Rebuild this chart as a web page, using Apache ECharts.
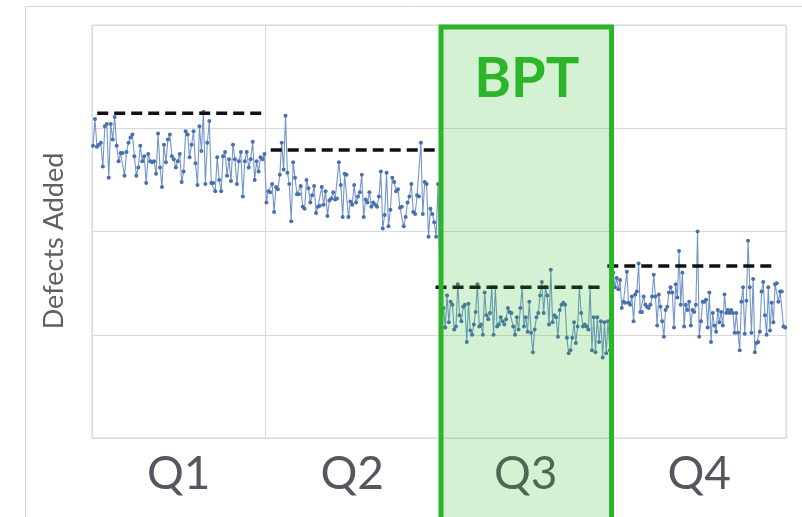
<!DOCTYPE html>
<html>
<head>
<meta charset="utf-8">
<script src="https://cdn.jsdelivr.net/npm/echarts@6/dist/echarts.min.js"></script>
<style>
  html, body { margin: 0; padding: 0; background: #fff; }
  #main { width: 802px; height: 517px; }
</style>
</head>
<body>
<div id="main"></div>
<script>
// quarter labels and per-quarter daily values (unitless)
const quarters = ['Q1', 'Q2', 'Q3', 'Q4'];

const q1Values = [28.3, 30.9, 28.2, 28.4, 28.6, 26.3, 30.2, 30.4, 25.2, 30.4, 28.9, 31.1, 28.3, 26.8, 27.6, 27.6, 25.4, 27.7, 28.6, 29.1,
  29.4, 27.3, 25.4, 26.2, 28.3, 26.8, 27.3, 24.7, 27.5, 26.8, 26.7, 26.8, 25.6, 29.5, 26.2, 24.3, 28.4, 26.7, 28.9, 29.4,
  27.3, 27.0, 26.2, 26.8, 27.5, 24.8, 25.8, 29.7, 29.4, 27.2, 28.4, 29.7, 26.6, 24.5, 30.2, 27.8, 31.6, 24.6, 28.6, 30.7,
  24.7, 24.7, 23.9, 27.2, 25.0, 23.9, 27.3, 27.7, 25.4, 27.0, 24.9, 28.4, 27.0, 24.6, 26.8, 27.7, 23.4, 26.8, 27.7, 26.2,
  27.0, 28.7, 25.0, 26.8, 25.8, 27.2, 27.0, 27.5];

const q2Values = [22.8, 23.9, 23.8, 24.6, 21.9, 24.3, 24.1, 25.5, 28.6, 26.0, 31.2, 25.7, 24.6, 21.0, 26.7, 25.2, 23.6, 23.6, 24.4, 22.4,
  22.2, 25.0, 24.2, 22.8, 23.5, 24.4, 21.8, 22.4, 22.5, 24.3, 22.6, 23.9, 21.5, 23.0, 23.2, 23.8, 23.1, 23.2, 26.7, 24.5,
  21.4, 25.6, 25.5, 21.4, 22.9, 22.6, 24.5, 22.8, 23.4, 23.8, 25.5, 21.4, 23.1, 22.8, 23.8, 22.4, 22.8, 22.6, 22.4, 23.4,
  25.8, 20.3, 21.6, 25.7, 20.5, 22.1, 25.2, 24.8, 23.9, 24.1, 22.3, 22.4, 20.5, 21.4, 22.8, 23.4, 24.6, 21.9, 21.7, 23.5,
  23.4, 28.6, 21.7, 24.8, 24.6, 19.5, 22.2, 21.7, 20.9, 19.5, 24.6];

const q3Values = [14.6, 10.8, 12.6, 10.7, 13.8, 11.2, 13.2, 12.9, 10.5, 10.8, 14.9, 11.9, 11.3, 12.7, 12.9, 9.3, 13.0, 10.4, 10.0, 11.0,
  12.2, 14.9, 10.8, 11.0, 10.0, 14.1, 11.9, 11.5, 12.1, 14.6, 10.0, 14.6, 10.8, 11.0, 11.7, 11.3, 11.0, 11.5, 12.6, 12.2,
  12.1, 10.8, 10.0, 11.7, 10.5, 12.6, 14.6, 10.8, 11.7, 10.3, 13.2, 10.2, 8.3, 10.5, 11.7, 12.1, 13.8, 15.1, 12.1, 14.6,
  13.8, 11.0, 16.3, 11.2, 11.9, 11.7, 9.8, 12.4, 12.9, 13.1, 12.9, 9.7, 8.2, 8.5, 9.7, 11.2, 9.2, 10.8, 14.6, 12.1,
  10.8, 11.0, 10.8, 10.5, 14.6, 8.5, 11.7, 8.3, 11.7, 9.3, 11.3, 7.8, 11.2, 8.2, 11.3, 8.5, 11.3];

const q4Values = [16.0, 14.6, 15.5, 14.4, 15.3, 12.6, 13.2, 13.1, 16.1, 13.1, 12.9, 13.7, 11.3, 13.9, 14.2, 16.9, 12.2, 12.2, 13.7, 12.9,
  12.7, 12.6, 12.9, 13.7, 15.8, 13.7, 10.9, 13.9, 12.7, 11.3, 9.8, 12.4, 12.7, 14.1, 14.6, 14.1, 10.7, 14.9, 13.6, 18.1,
  12.9, 16.0, 10.8, 12.9, 12.4, 13.2, 10.9, 12.4, 12.2, 12.9, 20.0, 9.8, 11.3, 13.2, 13.2, 13.4, 10.7, 14.1, 9.3, 12.1,
  10.9, 10.3, 12.4, 11.2, 12.2, 10.9, 13.9, 12.1, 12.4, 12.1, 12.4, 12.1, 10.2, 12.1, 10.2, 8.5, 13.2, 14.6, 10.1, 13.3,
  19.1, 14.6, 10.2, 15.4, 8.3, 9.2, 9.3, 10.3, 14.2, 15.1, 11.9, 10.0, 14.6, 10.4, 13.1, 11.2, 14.9, 15.0, 13.2, 14.2,
  14.2, 10.8, 10.7];

// dashed reference level per quarter and where each dash run starts / ends (in quarter units)
const refLevels = [31.45, 27.9, 14.6, 16.65];
const refStart = [0.03, 1.03, 1.98, 2.97];
const refEnd = [1.0, 2.0, 2.96, 3.95];

const highlightQuarter = 2;   // Q3
const highlightText = 'BPT';
const yAxisTitle = 'Defects Added';

const chart = echarts.init(document.getElementById('main'));

// spread every quarter's points evenly across its own band
const points = [];
[q1Values, q2Values, q3Values, q4Values].forEach(function (vals, q) {
  vals.forEach(function (v, i) {
    points.push([q + (i + 0.5) / vals.length, v]);
  });
});

const gridColor = '#d9d9d9';

const refSeries = refLevels.map(function (v, q) {
  return {
    type: 'line',
    xAxisIndex: 0,
    data: [[refStart[q], v], [refEnd[q], v]],
    symbol: 'none',
    lineStyle: { color: '#111', width: 3.5, type: [11, 6] },
    z: 4
  };
});

chart.setOption({
  animation: false,
  grid: { left: 92, top: 25, right: 16, bottom: 79, show: true, borderColor: gridColor, borderWidth: 1 },
  xAxis: [
    {
      type: 'value', min: 0, max: 4, interval: 1,
      axisLabel: { show: false }, axisLine: { show: false }, axisTick: { show: false },
      splitLine: { show: true, lineStyle: { color: gridColor } }
    },
    {
      type: 'category', data: quarters, position: 'bottom', boundaryGap: true,
      axisLine: { show: false }, axisTick: { show: false }, splitLine: { show: false },
      axisLabel: { fontFamily: 'Lato', fontSize: 46, color: '#55565f', margin: 13 }
    }
  ],
  yAxis: {
    type: 'value', min: 0, max: 40, interval: 10,
    axisLabel: { show: false }, axisLine: { show: false }, axisTick: { show: false },
    splitLine: { lineStyle: { color: gridColor } }
  },
  series: [{
    type: 'line',
    xAxisIndex: 0,
    data: points,
    symbol: 'circle',
    symbolSize: 4,
    lineStyle: { color: '#7395cd', width: 1.1 },
    itemStyle: { color: '#4a6fae' },
    z: 3
  }].concat(refSeries)
});

// highlighted quarter box + labels, placed from the axis scales
const p0 = chart.convertToPixel({ xAxisIndex: 0, yAxisIndex: 0 }, [highlightQuarter, 40]);
const p1 = chart.convertToPixel({ xAxisIndex: 0, yAxisIndex: 0 }, [highlightQuarter + 1, 0]);

chart.setOption({
  graphic: [
    {
      type: 'rect', z: -1, silent: true,
      shape: { x: 25.5, y: 6.5, width: 900, height: 600 },
      style: { fill: 'none', stroke: '#d4d4d4', lineWidth: 1 }
    },
    {
      type: 'rect', z: 100, silent: true,
      shape: { x: p0[0] + 2, y: p0[1] + 2, width: p1[0] - p0[0] - 3, height: chart.getHeight() - p0[1] + 10 },
      style: { fill: 'rgba(45,185,40,0.2)', stroke: '#2db52a', lineWidth: 5 }
    },
    {
      type: 'text', z: 101, silent: true,
      x: (p0[0] + p1[0]) / 2 + 1, y: p0[1] + 54,
      style: { text: highlightText, font: 'bold 56px Lato', fill: '#2db52a', align: 'center', verticalAlign: 'middle' }
    },
    {
      type: 'text', z: 101, silent: true,
      x: 54, y: 241, rotation: Math.PI / 2,
      style: { text: yAxisTitle, font: '27px Lato', fill: '#606060', align: 'center', verticalAlign: 'middle' }
    }
  ]
});
</script>
</body>
</html>
